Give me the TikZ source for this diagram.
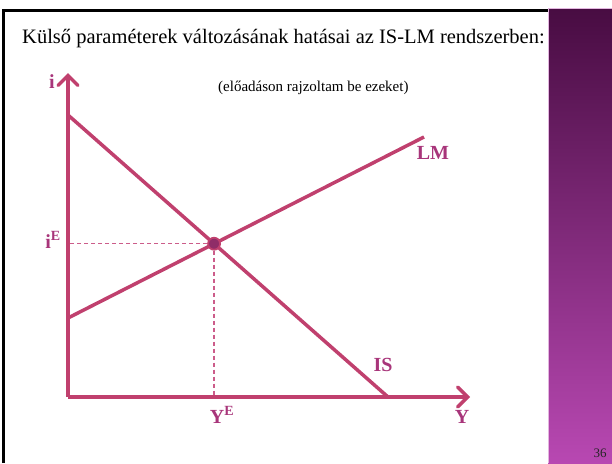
\documentclass[tikz,border=0pt]{standalone}
\usepackage{fontspec}
\setmainfont{Liberation Serif}
\usetikzlibrary{arrows.meta, calc}
\definecolor{curve}{HTML}{C0406E}
\definecolor{lbl}{HTML}{A8357A}
\definecolor{dashpink}{HTML}{CC5C8A}
\definecolor{plumtop}{RGB}{72,12,66}
\definecolor{plummid}{RGB}{122,32,114}
\definecolor{plumbot}{RGB}{184,72,178}

\begin{document}
\begin{tikzpicture}[x=1pt, y=-1pt,
    axis/.style={draw=curve, line width=3.5pt, -{Straight Barb[length=10pt, width=20pt, line width=3.5pt, line cap=round]}},
    curveline/.style={draw=curve, line width=3.5pt},
    guide/.style={draw=dashpink, line width=1.4pt, dash pattern=on 4pt off 3pt},
    lab/.style={text=lbl, font=\fontsize{20}{22}\selectfont\bfseries, inner sep=0pt},
    eqdot/.style={circle, draw=curve, fill=lbl!85!black, line width=1.8pt, minimum size=12pt, inner sep=0pt}
]
    \useasboundingbox (0,0) rectangle (612,463);

    % Slide frame and side stripe
    \shade[top color=plumtop, middle color=plummid, bottom color=plumbot] (548,8) rectangle (612,463);
    \draw[plumbot!40!white, line width=1pt] (548.5,463) -- (548.5,8.5) -- (612,8.5);
    \draw[line width=2.5pt] (3.5,463) -- (3.5,10.5) -- (548,10.5);

    % Headings
    \node[anchor=base west, inner sep=0pt, font=\fontsize{20.5}{24}\selectfont] (title) at (22,43)
        {Külső paraméterek változásának hatásai az IS-LM rendszerben:};
    \node[anchor=base west, inner sep=0pt, font=\fontsize{15}{18}\selectfont] (note) at (218,91)
        {(előadáson rajzoltam be ezeket)};

    % Axes
    \coordinate (O) at (68,397);
    \coordinate (itip) at (68,73);
    \coordinate (ytip) at (470,397);
    \draw[axis] (O) -- (itip);
    \draw[axis] (O) -- (ytip);

    % IS and LM curves
    \coordinate (is1) at (68,115);
    \coordinate (is2) at (388,397);
    \coordinate (lm1) at (68,318);
    \coordinate (lm2) at (424,137);
    \draw[curveline] (is1) -- (is2);
    \draw[curveline] (lm1) -- (lm2);

    % Equilibrium
    \coordinate (E) at (intersection of is1--is2 and lm1--lm2);
    \draw[guide] (E) -- (E -| O);
    \draw[guide] (E) -- (E |- O);
    \node[eqdot] (eq) at (E) {};

    % Labels
    \node[lab] (ilab) at (52,82) {i};
    \node[lab] (iE) at (53,240) {i\textsuperscript{E}};
    \node[lab] (lmlab) at (433,153) {LM};
    \node[lab] (islab) at (383,365) {IS};
    \node[lab] (yE) at (222,415) {Y\textsuperscript{E}};
    \node[lab] (ylab) at (462,417) {Y};

    \node[font=\fontsize{13}{15}\selectfont, text=black!85] (pnum) at (600,453) {36};
\end{tikzpicture}
\end{document}
